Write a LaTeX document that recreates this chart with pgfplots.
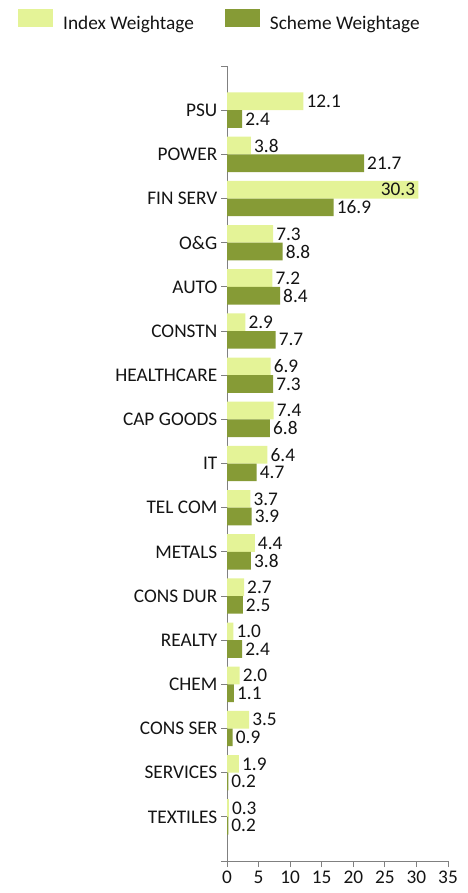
\documentclass[border=0pt]{standalone}
\usepackage{fontspec}
\setmainfont{Carlito}
\usepackage{pgfplots}
\usepackage{pgfplotstable}
\pgfplotsset{compat=1.18}

\definecolor{indexgreen}{RGB}{228,243,151}
\definecolor{schemegreen}{RGB}{134,155,54}
\definecolor{axisgray}{RGB}{128,128,128}
\definecolor{labelink}{RGB}{20,20,20}

% Sector weights (%); pos runs from the bottom row (1) to the top row (17).
\pgfplotstableread{
pos idx  sch
17  12.1 2.4
16  3.8  21.7
15  30.3 16.9
14  7.3  8.8
13  7.2  8.4
12  2.9  7.7
11  6.9  7.3
10  7.4  6.8
9   6.4  4.7
8   3.7  3.9
7   4.4  3.8
6   2.7  2.5
5   1.0  2.4
4   2.0  1.1
3   3.5  0.9
2   1.9  0.2
1   0.3  0.2
}\weights

\newcommand{\chartfont}{\fontsize{19.3}{23}\selectfont}

\begin{document}
\begin{tikzpicture}
\useasboundingbox (0pt,0pt) rectangle (467pt,-893pt);
\begin{axis}[
  at={(227pt,-861pt)}, anchor=south west,
  scale only axis, width=221pt, height=795pt,
  xbar, bar width=0.4,
  xmin=0, xmax=35, xtick={0,5,...,35},
  ymin=0, ymax=18, ytick={0,...,18},
  yticklabels={,TEXTILES,SERVICES,CONS SER,CHEM,REALTY,CONS DUR,METALS,TEL COM,IT,CAP GOODS,HEALTHCARE,CONSTN,AUTO,O\&G,FIN SERV,POWER,PSU,},
  axis x line*=bottom, axis y line*=left,
  axis line style={-, axisgray, line width=0.8pt},
  tick align=outside, major tick length=6pt,
  tick style={axisgray, line width=0.8pt},
  tick label style={font=\chartfont, text=labelink},
  /pgf/number format/assume math mode=true,
  xticklabel style={inner sep=4pt},
  yticklabel style={inner sep=3.5pt},
  nodes near coords={\pgfmathprintnumber[fixed,fixed zerofill,precision=1,assume math mode=true]{\pgfplotspointmeta}},
  every node near coord/.append style={font=\chartfont, text=labelink, inner sep=3pt},
  legend columns=2,
  legend style={at={(-0.9457,1.0717)}, anchor=north west, draw=none, fill=none,
    inner sep=0pt, font=\chartfont, text=labelink,
    nodes={inner sep=0pt},
    /tikz/every odd column/.append style={column sep=10pt},
    /tikz/every even column/.append style={column sep=31pt}},
  legend image code/.code={\path[#1] (0pt,-4pt) rectangle (35pt,14pt);},
]
% the widest index bar carries its label inside the bar end
\addplot[fill=indexgreen, draw=none, bar shift=0.2,
  coordinate style/.condition={x>25}{anchor=east}]
  table[x=idx, y=pos] \weights;
\addlegendentry{Index Weightage}
\addplot[fill=schemegreen, draw=none, bar shift=-0.2]
  table[x=sch, y=pos] \weights;
\addlegendentry{Scheme Weightage}
\end{axis}
\end{tikzpicture}
\end{document}
